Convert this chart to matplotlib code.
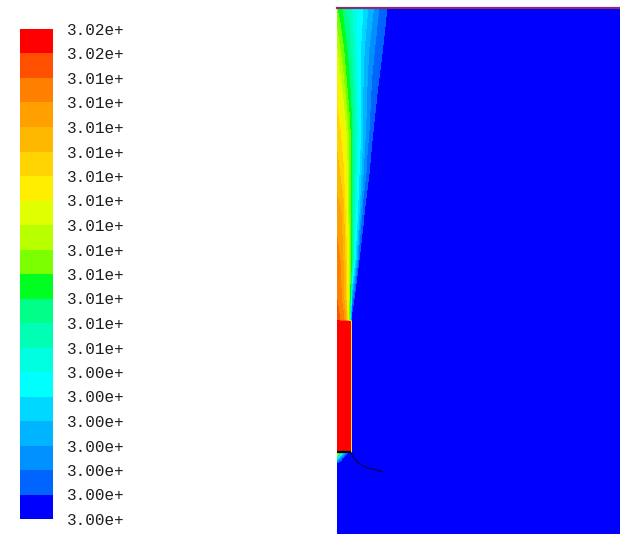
import numpy as np
import matplotlib
matplotlib.use('Agg')
import matplotlib.pyplot as plt
from matplotlib.colors import ListedColormap

# colour bands of the legend, bottom (coldest) to top (hottest)
band_colors = ['#0000ff', '#0064ff', '#0090ff', '#00b4ff', '#00d8ff',
               '#00ffff', '#00ffe0', '#00ffb4', '#00ff88', '#00ff20',
               '#7cff00', '#b8ff00', '#e0ff00', '#ffee00', '#ffd400',
               '#ffb800', '#ffa000', '#ff8000', '#ff5000', '#ff0000']
tick_labels = ['3.00e+', '3.00e+', '3.00e+', '3.00e+', '3.00e+', '3.00e+', '3.00e+',
               '3.01e+', '3.01e+', '3.01e+', '3.01e+', '3.01e+', '3.01e+',
               '3.01e+', '3.01e+', '3.01e+', '3.01e+', '3.01e+', '3.01e+',
               '3.02e+', '3.02e+']
levels = np.linspace(300.0, 302.0, 21)

# temperature field: distance from wall (columns), height (rows),
# rise above 300 K in tenths of a kelvin
x_cols = [0, 3, 6, 9, 12, 13.5, 15, 18, 22, 26, 30, 35, 40, 45, 50, 55, 60, 283]
y_rows = [0, 70, 76, 81, 83, 212, 214, 234, 274, 319, 359, 404, 447, 484, 526]
rise_rows = [
    [0, 0, 0, 0, 0, 0, 0, 0, 0, 0, 0, 0, 0, 0, 0, 0, 0, 0],
    [0, 0, 0, 0, 0, 0, 0, 0, 0, 0, 0, 0, 0, 0, 0, 0, 0, 0],
    [5, 2.5, 0.8, 0, 0, 0, 0, 0, 0, 0, 0, 0, 0, 0, 0, 0, 0, 0],
    [14, 8, 4, 1.5, 0.5, 0, 0, 0, 0, 0, 0, 0, 0, 0, 0, 0, 0, 0],
    [19.9, 19.9, 19.9, 19.9, 19.9, 19.9, 0, 0, 0, 0, 0, 0, 0, 0, 0, 0, 0, 0],
    [19.9, 19.9, 19.9, 19.9, 19.9, 19.9, 0, 0, 0, 0, 0, 0, 0, 0, 0, 0, 0, 0],
    [18.5, 18, 17.5, 16, 11, 4, 0, 0, 0, 0, 0, 0, 0, 0, 0, 0, 0, 0],
    [18, 17.5, 16.5, 15, 11, 8, 2.5, 0, 0, 0, 0, 0, 0, 0, 0, 0, 0, 0],
    [17.5, 17, 16, 14.5, 12, 10.5, 8.5, 5, 1, 0, 0, 0, 0, 0, 0, 0, 0, 0],
    [16.5, 16.3, 15.5, 13.5, 11, 9.5, 8.2, 6.5, 4, 1.3, 0, 0, 0, 0, 0, 0, 0, 0],
    [15.5, 15, 14.3, 13, 11, 10, 9, 7, 5, 3, 1.6, 0, 0, 0, 0, 0, 0, 0],
    [14.5, 14, 13.2, 12, 10.5, 9.8, 9, 7.5, 5.8, 4, 2.5, 1.3, 0, 0, 0, 0, 0, 0],
    [13.5, 12.5, 11.5, 10.3, 9.3, 8.8, 8.2, 7, 5.5, 4, 3, 1.8, 1.2, 0, 0, 0, 0, 0],
    [12, 11, 10.2, 9.3, 8.5, 8, 7.6, 6.6, 5.4, 4.3, 3.3, 2.4, 1.6, 1.1, 0, 0, 0, 0],
    [10, 9.4, 8.7, 8.1, 7.5, 7.2, 6.9, 6.3, 5.6, 5, 4.2, 3.3, 2.3, 1.5, 1.0, 0, 0, 0],
]

heater_x = [0, 14]
heater_bottom = 82.5
stream_x = [13.5, 15, 18, 22, 26, 31, 38, 45]
stream_y = [81.5, 79, 74.5, 70.5, 68, 66, 64.5, 62.5]

temp = 300.0 + 0.1 * np.array(rise_rows)
cmap = ListedColormap(band_colors)

fig = plt.figure(figsize=(6.2, 5.34), dpi=100)
fig.patch.set_facecolor('white')

ax = fig.add_axes([337 / 620, 0, 283 / 620, 526 / 534])
ax.set_facecolor('#0000ff')
cs = ax.contourf(x_cols, y_rows, temp, levels=levels, cmap=cmap, antialiased=False)
ax.plot(heater_x, [heater_bottom, heater_bottom], color='black', lw=1.6, solid_capstyle='butt')
ax.plot(stream_x, stream_y, color='#0a0a30', lw=0.8)
ax.set_xlim(0, 283)
ax.set_ylim(0, 526)
ax.set_xticks([])
ax.set_yticks([])
for side in ['left', 'right', 'bottom']:
    ax.spines[side].set_visible(False)
ax.spines['top'].set_color('#8a2e72')
ax.spines['top'].set_linewidth(1.6)

cax = fig.add_axes([20 / 620, 15 / 534, 33 / 620, 490 / 534])
cbar = fig.colorbar(cs, cax=cax)
cbar.outline.set_visible(False)
cbar.set_ticks(levels)
cbar.set_ticklabels(tick_labels)
cax.tick_params(length=0, pad=10, labelsize=11.5, labelcolor='#1e1e1e')
for lab in cax.get_yticklabels():
    lab.set_family('Liberation Mono')

fig.savefig('out.png', dpi=100)
